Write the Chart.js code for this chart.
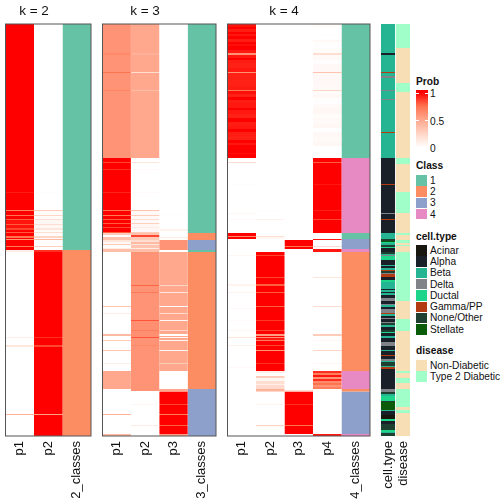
<!DOCTYPE html>
<html>
<head>
<meta charset="utf-8">
<style>
  html, body { margin: 0; padding: 0; background: #fff; }
  body { width: 504px; height: 504px; position: relative; overflow: hidden; font-family: "Liberation Sans", sans-serif; color: #111; }
  canvas { position: absolute; top: 0; }
  .txt { position: absolute; white-space: nowrap; font-size: 10.2px; line-height: 12px; }
  .head { font-weight: bold; }
  .title { font-size: 13.5px; line-height: 16px; transform: translateX(-50%); }
  .box { position: absolute; }
</style>
<script src="https://cdn.jsdelivr.net/npm/chart.js@4"></script>
</head>
<body>
<script>
// every column is a list of [end row, value] runs, read from top to bottom
const ROWS = 412;

const k2P1 = [[168,1],[169,.94],[186,1],[187,.7],[191,1],[192,.75],[195,1],[196,.8],[200,.96],[201,.8],[204,.96],[206,.85],[208,1],[209,.8],[212,1],[214,.75],[215,1],[216,.6],[222,1],[223,.72],[226,1],[228,.1],[313,0],[314,.1],[321,0],[323,.15],[390,0],[391,.45],[411,0],[412,.03]];
const k2P2 = [[168,0],[169,.02],[186,0],[187,.3],[191,.02],[192,.25],[195,.02],[196,.2],[200,.05],[201,.2],[204,.05],[206,.15],[208,.02],[209,.2],[212,.02],[214,.25],[215,.02],[216,.4],[222,.01],[223,.28],[226,0],[228,.9],[313,1],[314,.9],[321,1],[323,.85],[390,1],[391,.55],[411,1],[412,.95]];
const k2Class = [[226,1],[412,2]];

const k3P1 = [[29,.6],[31,.65],[48,.6],[49,.75],[66,.6],[67,.67],[134,.6],[138,1],[139,.85],[145,1],[146,.9],[168,1],[169,.92],[186,1],[187,.75],[191,1],[192,.72],[195,1],[196,.8],[199,1],[200,.8],[203,1],[204,.85],[208,1],[209,.8],[211,.3],[213,0],[216,.35],[218,.15],[220,.05],[221,.3],[224,0],[225,.12],[228,.38],[282,0],[283,.35],[289,0],[290,.1],[310,0],[312,.4],[316,0],[317,.3],[326,0],[327,.35],[339,0],[340,.1],[347,0],[365,.5],[390,0],[391,.45],[410,0],[412,.4]];
const k3P2 = [[29,.5],[31,.45],[48,.5],[49,.2],[66,.5],[67,.38],[134,.5],[138,0],[139,.15],[145,0],[146,.03],[168,0],[169,.03],[186,0],[187,.35],[191,.03],[192,.3],[195,.03],[196,.2],[199,.03],[200,.28],[203,.05],[204,.12],[208,.04],[209,.3],[211,.35],[213,.85],[216,.3],[218,.2],[220,.4],[221,.15],[224,.35],[225,.12],[228,.38],[261,.6],[262,.78],[268,.6],[269,.73],[296,.6],[297,.82],[306,.62],[307,.7],[313,.62],[314,.82],[321,.6],[322,.65],[367,.6],[380,0],[381,.05],[401,0],[402,.12],[411,0],[412,.03]];
const k3P3 = [[190,0],[191,.02],[205,0],[207,.08],[213,0],[214,.1],[216,.02],[226,.6],[228,0],[261,.5],[262,.25],[268,.5],[269,.15],[282,.5],[283,0],[289,.5],[290,.2],[296,.5],[297,.05],[306,.5],[307,.25],[310,.5],[312,0],[313,.5],[314,.05],[316,.5],[317,.05],[326,.5],[327,.05],[339,.5],[340,.3],[347,.5],[365,0],[367.5,.5],[380,1],[381,.85],[390,1],[391,.72],[401,1],[402,.8],[410,1],[412,.55]];
const k3Class = [[209,1],[216,2],[226,3],[228,1],[365,2],[412,3]];

const k4P1 = [[3,.96],[5,1],[8,.94],[10,1],[12,.95],[15,1],[18,.94],[20,1],[22,.97],[26,1],[29,.95],[31,.6],[34,.95],[36,1],[39,.94],[44,.93],[48,.95],[49,.6],[53,.93],[58,.93],[62,.93],[66,.94],[67,.72],[70,.97],[73,.93],[76,1],[79,.94],[84,.95],[86,1],[90,.95],[94,.93],[98,1],[102,.94],[105,.95],[108,1],[112,.94],[116,.93],[119,1],[121,.95],[129,1],[130,.97],[134,1],[138,0],[139,.2],[160,0],[161,.02],[189,0],[190,.05],[195,0],[196,.04],[209,0],[212,1],[213,.65],[215,1],[231,0],[232,.05],[260,0],[262,.07],[268,0],[269,.07],[284,0],[285,.03],[296,0],[297,.03],[306,0],[307,.05],[313,0],[314,.15],[321,0],[322,.08],[343,0],[344,.04],[412,0]];
const k4P2 = [[186,0],[187,.02],[195,0],[196,.08],[212,0],[213,.2],[215,.05],[228,0],[231,1],[232,.85],[253,1],[254,.85],[260,1],[262,.8],[268,1],[269,.8],[282,1],[283,.8],[296,1],[297,.88],[306,1],[307,.85],[310,1],[312,.55],[313,1],[314,.6],[316,.95],[317,.7],[321,1],[322,.85],[326,1],[327,.6],[339,1],[340,.9],[347,1],[349,.1],[352,0],[354,.3],[357,.05],[360,.2],[361,.1],[365,.22],[367.5,.45],[380,0],[381,.07],[401,0],[402,.25],[403,.05],[412,0]];
const k4P3 = [[216,0],[222,1],[223,.75],[225,1],[366,0],[367.5,.2],[380,1],[381,.9],[401,1],[402,.75],[410,1],[412,.02]];
const k4P4 = [[4,.02],[10,0],[11,.02],[16,0],[18,.04],[24,.01],[29,.02],[31,.2],[36,.03],[40,.01],[48,.04],[49,.35],[53,.04],[62,.04],[66,.03],[67,.25],[70,.02],[74,.04],[80,.01],[84,.03],[90,.05],[94,.02],[100,.03],[104,.05],[108,0],[112,.04],[118,.03],[122,.05],[134,0],[138,1],[139,.8],[160,1],[161,.95],[186,1],[187,.93],[195,1],[196,.85],[209,1],[215,0],[216,.95],[222,0],[223,.2],[225,0],[228,.95],[253,0],[254,.15],[282,0],[283,.2],[310,0],[312,.3],[316,0],[317,.05],[326,0],[327,.25],[339,0],[340,.05],[347,0],[349,.9],[351,.7],[353,.95],[355,.6],[357,.9],[359,.65],[361,.75],[363,.6],[365,.7],[410,0],[412,.95]];
const k4Class = [[134,1],[209,4],[215,1],[225,3],[228,4],[347,2],[365,4],[367.5,2],[410,3],[412,4]];

const cellTypeRuns = [[29,"Beta"],[31,"Alpha"],[48,"Beta"],[49,"Gamma/PP"],[52,"Beta"],[54,"Delta"],[66,"Beta"],[67,"Delta"],[75,"Beta"],[76,"Delta"],[108,"Beta"],[109,"Gamma/PP"],[134,"Beta"],[160,"Alpha"],[161,"Gamma/PP"],[189,"Alpha"],[190,"Delta"],[195,"Alpha"],[196,"Gamma/PP"],[209,"Alpha"],[215,"Beta"],[217,"None/Other"],[218,"Stellate"],[219,"Ductal"],[221,"Beta"],[223,"None/Other"],[224,"Ductal"],[225,"Alpha"],[228,"Alpha"],[230,"None/Other"],[231,"Beta"],[232,"Delta"],[236,"Ductal"],[241,"Alpha"],[242,"Beta"],[244,"Alpha"],[246,"Beta"],[247,"Gamma/PP"],[249,"None/Other"],[250,"Delta"],[253,"Gamma/PP"],[256,"Alpha"],[258,"Ductal"],[265,"Beta"],[266,"Alpha"],[268,"Beta"],[269,"Alpha"],[271,"Beta"],[274,"Alpha"],[277,"Delta"],[280,"Alpha"],[281,"Delta"],[283,"Beta"],[285,"Alpha"],[289,"Delta"],[290,"Gamma/PP"],[292,"Beta"],[294,"Alpha"],[295,"Delta"],[298,"Alpha"],[299,"Delta"],[301,"None/Other"],[303,"Beta"],[306,"Alpha"],[308,"None/Other"],[309,"Ductal"],[312,"Alpha"],[314,"Beta"],[318,"Alpha"],[322,"Delta"],[326,"Alpha"],[327,"Beta"],[331,"Alpha"],[332,"Gamma/PP"],[335,"Alpha"],[337,"Delta"],[338,"Beta"],[342,"None/Other"],[343,"Beta"],[345,"Gamma/PP"],[365,"Alpha"],[368,"Delta"],[370,"None/Other"],[372,"Beta"],[377,"Ductal"],[378,"None/Other"],[382,"Stellate"],[386,"Stellate"],[387,"Beta"],[391,"Alpha"],[395,"Acinar"],[397,"Ductal"],[400,"Alpha"],[404,"None/Other"],[406,"None/Other"],[408,"Ductal"],[409,"Beta"],[412,"None/Other"]];
const diseaseRuns = [[24,"Type 2 Diabetic"],[59,"Non-Diabetic"],[68,"Type 2 Diabetic"],[134,"Non-Diabetic"],[140,"Type 2 Diabetic"],[168,"Non-Diabetic"],[189,"Type 2 Diabetic"],[209,"Non-Diabetic"],[211,"Type 2 Diabetic"],[216,"Non-Diabetic"],[219,"Type 2 Diabetic"],[221,"Non-Diabetic"],[222,"Type 2 Diabetic"],[228,"Non-Diabetic"],[277,"Type 2 Diabetic"],[295,"Non-Diabetic"],[307,"Type 2 Diabetic"],[347,"Non-Diabetic"],[349,"Type 2 Diabetic"],[354,"Non-Diabetic"],[359,"Type 2 Diabetic"],[365,"Non-Diabetic"],[383,"Type 2 Diabetic"],[386,"Non-Diabetic"],[389,"Type 2 Diabetic"],[412,"Non-Diabetic"]];

const classNames = [1, 2, 3, 4];
const classColors = ["#66C2A5", "#FC8D62", "#8DA0CB", "#E78AC3"];
const cellTypeNames = ["Acinar", "Alpha", "Beta", "Delta", "Ductal", "Gamma/PP", "None/Other", "Stellate"];
const cellTypeColors = ["#17170F", "#1A2028", "#25B593", "#808488", "#1CD48A", "#B33B12", "#1E4030", "#0A5C0A"];
const diseaseNames = ["Non-Diabetic", "Type 2 Diabetic"];
const diseaseColors = ["#F7DEB5", "#A0FFC9"];
const probTicks = [1, 0.5, 0];

const rampStops = [[0, 255, 255, 255], [0.25, 255, 213, 197], [0.5, 255, 168, 142], [0.75, 255, 116, 80], [1, 255, 0, 0]];

function probColor(v) {
  for (let i = 1; i < rampStops.length; i++) {
    const a = rampStops[i - 1], b = rampStops[i];
    if (v <= b[0]) {
      const t = (v - a[0]) / (b[0] - a[0]);
      return `rgb(${[1, 2, 3].map((c) => Math.round(a[c] + (b[c] - a[c]) * t)).join(",")})`;
    }
  }
  return "rgb(255,0,0)";
}
const classColor = (c) => classColors[classNames.indexOf(c)];
const cellColor = (c) => cellTypeColors[cellTypeNames.indexOf(c)];
const diseaseColor = (c) => diseaseColors[diseaseNames.indexOf(c)];

const panelBorder = {
  id: "panelBorder",
  afterDatasetsDraw(chart, args, opts) {
    if (!opts.show) return;
    const a = chart.chartArea;
    chart.ctx.save();
    chart.ctx.strokeStyle = "#555";
    chart.ctx.lineWidth = 1;
    chart.ctx.strokeRect(a.left, a.top, a.right - a.left, a.bottom - a.top);
    chart.ctx.restore();
  }
};

function makePanel(left, right, columns, border, barPct) {
  const canvas = document.createElement("canvas");
  const x0 = Math.floor(left) - 2;
  const x1 = Math.ceil(right) + 2;
  canvas.style.left = x0 + "px";
  canvas.style.width = (x1 - x0) + "px";
  canvas.style.height = "504px";
  canvas.width = x1 - x0;
  canvas.height = 504;
  document.body.appendChild(canvas);

  const datasets = [];
  columns.forEach((col) => {
    let start = 0;
    col.runs.forEach(([end, value]) => {
      datasets.push({
        data: [{ x: col.label, y: [start, end] }],
        backgroundColor: col.color(value),
        grouped: false,
        barPercentage: barPct,
        categoryPercentage: 1,
        inflateAmount: 0,
        borderWidth: 0
      });
      start = end;
    });
  });

  return new Chart(canvas, {
    type: "bar",
    data: { labels: columns.map((c) => c.label), datasets },
    plugins: [panelBorder],
    options: {
      responsive: false,
      animation: false,
      devicePixelRatio: 1,
      layout: { padding: { left: left - x0, right: x1 - right, top: 24, bottom: 0 } },
      plugins: { legend: { display: false }, tooltip: { enabled: false }, panelBorder: { show: border } },
      scales: {
        y: { display: false, min: 0, max: ROWS, reverse: true },
        x: {
          grid: { display: false },
          border: { display: false },
          afterFit(scale) {
            scale.height = 68;
            scale.paddingLeft = 0;
            scale.paddingRight = 0;
          },
          ticks: {
            autoSkip: false,
            minRotation: 90,
            maxRotation: 90,
            padding: -3,
            color: "#111",
            font: { family: "Liberation Sans", size: 13 }
          }
        }
      }
    }
  });
}

makePanel(5.5, 91, [
  { label: "p1", runs: k2P1, color: probColor },
  { label: "p2", runs: k2P2, color: probColor },
  { label: "2_classes", runs: k2Class, color: classColor }
], true, 1);
makePanel(102.5, 216, [
  { label: "p1", runs: k3P1, color: probColor },
  { label: "p2", runs: k3P2, color: probColor },
  { label: "p3", runs: k3P3, color: probColor },
  { label: "3_classes", runs: k3Class, color: classColor }
], true, 1);
makePanel(227.5, 370, [
  { label: "p1", runs: k4P1, color: probColor },
  { label: "p2", runs: k4P2, color: probColor },
  { label: "p3", runs: k4P3, color: probColor },
  { label: "p4", runs: k4P4, color: probColor },
  { label: "4_classes", runs: k4Class, color: classColor }
], true, 1);
makePanel(380.5, 410.5, [
  { label: "cell.type", runs: cellTypeRuns, color: cellColor },
  { label: "disease", runs: diseaseRuns, color: diseaseColor }
], false, 0.94);

function addText(text, x, yMid, cls) {
  const el = document.createElement("div");
  el.className = "txt " + (cls || "");
  el.textContent = text;
  el.style.left = x + "px";
  el.style.top = (yMid - 6) + "px";
  document.body.appendChild(el);
  return el;
}
function addBox(x, y, w, h, bg) {
  const el = document.createElement("div");
  el.className = "box";
  el.style.cssText = `left:${x}px;top:${y}px;width:${w}px;height:${h}px;background:${bg}`;
  document.body.appendChild(el);
  return el;
}
function addTitle(text, center) {
  const el = addText(text, center, 10, "title");
  el.style.top = "3px";
}
function addLegend(title, names, colors, titleY, startY, step) {
  addText(title, 416, titleY, "head");
  names.forEach((name, i) => {
    const top = startY + i * step;
    addBox(416, top, 11, step - 0.8, colors[i]);
    addText(String(name), 430, top + step / 2, "");
  });
}

addTitle("k = 2", 34);
addTitle("k = 3", 145);
addTitle("k = 4", 284);

addText("Prob", 416, 82, "head");
const gradStops = [1, 0.75, 0.5, 0.25, 0].map((v, i) => `${probColor(v)} ${2.5 + i * 13.75}px`).join(",");
addBox(416, 90, 11.5, 58, `linear-gradient(to bottom, ${gradStops})`);
probTicks.forEach((t) => {
  const y = 148 - t * 55;
  if (t > 0) {
    addBox(416, y - 0.5, 2.5, 1, "#fff");
    addBox(425, y - 0.5, 2.5, 1, "#fff");
  }
  addText(String(t), 430, y + 1, "");
});

addLegend("Class", classNames, classColors, 166, 175, 11.3);
addLegend("cell.type", cellTypeNames, cellTypeColors, 237, 245, 11.3);
addLegend("disease", diseaseNames, diseaseColors, 351, 360, 11.3);
</script>
</body>
</html>
